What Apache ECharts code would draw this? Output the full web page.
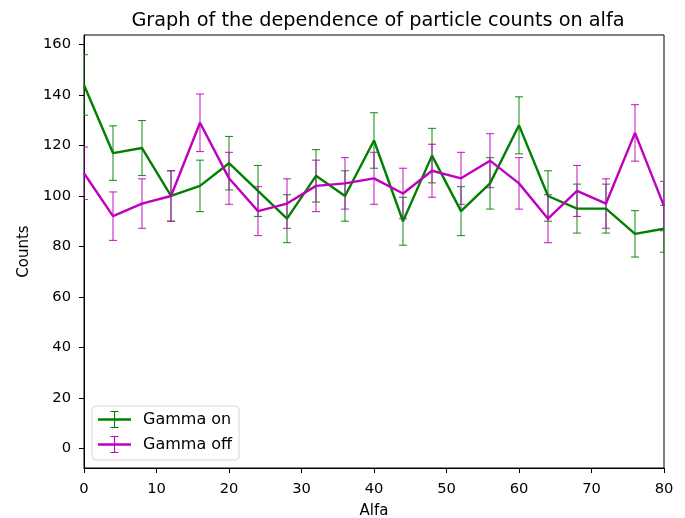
<!DOCTYPE html>
<html>
<head>
<meta charset="utf-8">
<script src="https://cdn.jsdelivr.net/npm/echarts@6/dist/echarts.min.js"></script>
<style>html,body{margin:0;padding:0;background:#fff;}#c{width:685px;height:518px;}</style>
</head>
<body>
<div id="c"></div>
<script>
const alfa = [0,4,8,12,16,20,24,28,32,36,40,44,48,52,56,60,64,68,72,76,80];
const gammaOn = [144,117,119,100,104,113,102,91,108,100,122,90,116,94,105,128,100,95,95,85,87];
const gammaOnErr = [12,10.8,10.9,10,10.2,10.6,10.1,9.5,10.4,10,11,9.5,10.8,9.7,10.2,11.3,10,9.7,9.7,9.2,9.3];
const gammaOff = [109,92,97,100,129,107,94,97,104,105,107,101,110,107,114,105,91,102,97,125,96];
const gammaOffErr = [10.4,9.6,9.8,10,11.4,10.3,9.7,9.8,10.2,10.2,10.3,10,10.5,10.3,10.7,10.2,9.5,10.1,9.8,11.2,9.8];
const yTicks = [0,20,40,60,80,100,120,140,160];
const xTicks = [0,10,20,30,40,50,60,70,80];

const GREEN = '#008000', MAG = '#bf00bf';
const FONT = 'DejaVu Sans';

function errSeries(name, vals, errs, color) {
  return {
    type: 'custom', name: name, clip: true, z: 3,
    data: alfa.map((x, i) => [x, vals[i], errs[i]]),
    renderItem: function (params, api) {
      const x = api.value(0), y = api.value(1), e = api.value(2);
      const t = api.coord([x, y + e]), b = api.coord([x, y - e]);
      const hw = 4;
      const st = { stroke: color, lineWidth: 1.1, opacity: 0.85 };
      return { type: 'group', children: [
        { type: 'line', shape: { x1: t[0], y1: t[1], x2: b[0], y2: b[1] }, style: st },
        { type: 'line', shape: { x1: t[0] - hw, y1: t[1], x2: t[0] + hw, y2: t[1] }, style: st },
        { type: 'line', shape: { x1: b[0] - hw, y1: b[1], x2: b[0] + hw, y2: b[1] }, style: st }
      ]};
    },
    tooltip: { show: false }
  };
}
function lineSeries(name, vals, color) {
  return {
    type: 'line', name: name, showSymbol: false, symbol: 'none', z: 4,
    data: alfa.map((x, i) => [x, vals[i]]),
    lineStyle: { color: color, width: 2.4 }, itemStyle: { color: color },
    animation: false
  };
}
const icon = 'path://M0,7.3 h33 v2.4 h-33 Z M16,0 h1.1 v17 h-1.1 Z M12.5,0 h8 v1.1 h-8 Z M12.5,15.9 h8 v1.1 h-8 Z';

const chart = echarts.init(document.getElementById('c'), null, { renderer: 'canvas' });
chart.setOption({
  animation: false,
  backgroundColor: '#fff',
  title: { text: 'Graph of the dependence of particle counts on alfa', left: 373, top: 6, textAlign: 'center',
    textStyle: { fontFamily: FONT, fontSize: 19.3, fontWeight: 'normal', color: '#000' } },
  grid: { left: 84, right: 21, top: 35, bottom: 50, outerBoundsMode: 'none', containLabel: false,
    show: true, borderColor: '#000', borderWidth: 1, backgroundColor: 'transparent' },
  legend: {
    orient: 'vertical', left: 92, top: 406,
    data: [{ name: 'Gamma on', icon: icon, itemStyle: { color: GREEN } }, { name: 'Gamma off', icon: icon, itemStyle: { color: MAG } }],
    itemWidth: 33, itemHeight: 17, itemGap: 8, padding: [5, 7, 7, 6],
    borderColor: '#d6d6d6', borderWidth: 1, borderRadius: 4, backgroundColor: 'rgba(255,255,255,0.8)',
    textStyle: { fontFamily: FONT, fontSize: 16, color: '#000', padding: [0, 0, 0, 7] }
  },
  xAxis: {
    type: 'value', min: 0, max: 80, interval: 10,
    name: 'Alfa', nameLocation: 'middle', nameGap: 36,
    nameTextStyle: { fontFamily: FONT, fontSize: 15, color: '#000' },
    axisLine: { show: true, onZero: false, lineStyle: { color: '#000', width: 1 } },
    axisTick: { show: true, length: 5, inside: false, lineStyle: { color: '#000' } },
    axisLabel: { fontFamily: FONT, fontSize: 14.7, color: '#000', margin: 14 },
    splitLine: { show: false }
  },
  yAxis: {
    type: 'value', min: -7.8, max: 163.8,
    name: 'Counts', nameLocation: 'middle', nameGap: 40, nameRotate: 90,
    nameTextStyle: { fontFamily: FONT, fontSize: 15, color: '#000' },
    axisLine: { show: true, onZero: false, lineStyle: { color: '#000', width: 1 } },
    axisTick: { show: true, length: 5, customValues: yTicks, lineStyle: { color: '#000' } },
    axisLabel: { fontFamily: FONT, fontSize: 14.7, color: '#000', margin: 13, customValues: yTicks, showMinLabel: true, showMaxLabel: true },
    splitLine: { show: false }
  },
  series: [
    lineSeries('Gamma on', gammaOn, GREEN),
    errSeries('Gamma on', gammaOn, gammaOnErr, GREEN),
    lineSeries('Gamma off', gammaOff, MAG),
    errSeries('Gamma off', gammaOff, gammaOffErr, MAG)
  ]
});
</script>
</body>
</html>
